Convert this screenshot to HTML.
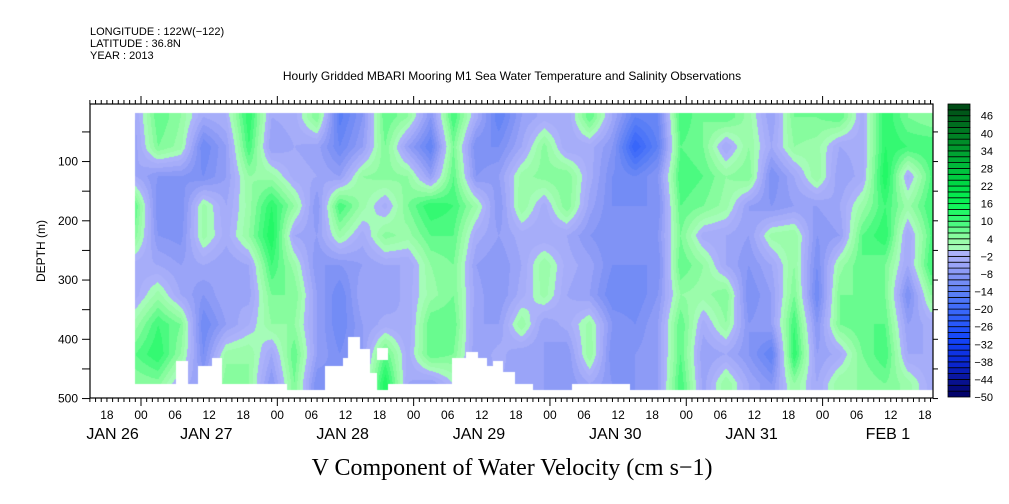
<!DOCTYPE html>
<html><head><meta charset="utf-8"><style>
html,body{margin:0;padding:0;background:#fff;}
#wrap{position:relative;width:1009px;height:504px;overflow:hidden;}
svg text{font-family:"Liberation Sans",sans-serif;}
</style></head><body>
<div id="wrap">
<canvas id="heat" width="1009" height="504" style="position:absolute;left:0;top:0"></canvas>
<svg id="ax" width="1009" height="504" style="position:absolute;left:0;top:0">
<text x="90" y="35" font-size="11">LONGITUDE : 122W(−122)</text>
<text x="90" y="47" font-size="11">LATITUDE : 36.8N</text>
<text x="90" y="59" font-size="11">YEAR : 2013</text>
<text x="512" y="80" font-size="12" text-anchor="middle">Hourly Gridded MBARI Mooring M1 Sea Water Temperature and Salinity Observations</text>
<text x="512" y="475" font-size="24" text-anchor="middle" style="font-family:'Liberation Serif',serif">V Component of Water Velocity (cm s−1)</text>
<text transform="translate(45,251) rotate(-90)" font-size="12" text-anchor="middle">DEPTH (m)</text>
</svg>
</div>
<script>
// grid: column times (hours since JAN 27 00:00), depth rows (m)
const hours=[-1,3,7,11,15,19,23,27,31,35,39,43,47,51,55,59,63,67,71,75,79,83,87,91,95,99,103,107,111,115,119,123,127,131,135,139];
const depths=[25,75,125,175,225,275,325,375,425,475];
const values=[
[-4,-5,-4,8,5,-3,-3,3,8,4],
[8,6,-8,-10,-8,-4,3,10,12,5],
[4,3,-8,-10,-9,-6,-4,6,4,-3],
[-4,-12,-10,3,3,-4,-8,-12,-10,-6],
[-2,-6,-6,-4,-3,-6,-4,-6,3,6],
[12,10,4,3,4,-4,-5,-2,4,4],
[-4,-6,3,12,14,10,6,4,-4,-8],
[-3,-4,-3,4,-4,3,6,4,8,6],
[6,-5,-4,-8,-6,-8,-6,-6,-6,-10],
[-15,-12,-6,10,3,-8,-12,-12,-10,-8],
[-8,-6,4,3,-3,-6,-4,-6,-6,-4],
[8,6,5,-3,5,-4,-6,-3,8,14],
[4,-6,4,6,3,-4,-3,-4,-3,-4],
[-8,-14,-6,12,8,4,3,8,8,-6],
[10,6,8,10,8,6,6,8,6,0],
[-3,-10,-8,3,-3,-6,-5,-6,-6,-5],
[-14,-10,-6,-8,-6,-8,-8,-6,-3,-4],
[-6,-4,3,4,-3,-4,-3,4,-6,-5],
[-3,5,5,-3,-4,4,3,-6,-6,-6],
[-4,-4,6,6,-4,-3,-4,-3,-8,-8],
[8,-3,-3,-5,-8,-5,-6,3,4,-4],
[-4,-8,-10,-10,-10,-10,-12,-8,-10,-8],
[-14,-22,-12,-10,-10,-10,-12,-10,-8,-8],
[-12,-14,-8,-10,-8,-10,-8,-6,-6,-6],
[10,8,10,8,6,8,4,8,8,10],
[6,6,8,6,-3,4,3,-3,-6,-5],
[8,-4,4,3,-4,-4,6,4,-4,4],
[3,4,6,-6,-6,-8,-10,-8,-8,-4],
[-6,-4,-10,-8,3,-4,-6,-6,-14,-8],
[6,4,-4,-6,4,4,6,10,12,4],
[6,3,4,-6,-8,-10,-12,-8,-6,-4],
[8,-4,-6,-4,-6,3,6,6,-3,4],
[-3,-3,-3,3,8,8,6,8,6,4],
[12,12,14,10,12,6,6,8,10,6],
[6,10,-3,3,-4,-4,-10,-6,-4,3],
[4,10,8,10,8,10,4,-3,-4,-3]
];
// data gaps [h0,h1,d0,d1]
const gaps=[[-1,25.7,475,500],[6.2,8.3,437,500],[10,12.5,445,500],[12.5,14.3,431,500],[32.4,35.5,445,500],[35.5,36.4,432,500],[36.4,38.5,396,500],[38.5,40.3,417,500],[40.3,41.5,457,500],[41.6,43.5,415,435],[43.5,58.7,475,500],[54.8,61,431,500],[57.3,59.3,422,500],[61,62,445,500],[62,63.7,437,500],[63.7,65.8,455,500],[65.8,69,475,500],[75.9,86.1,475,500]];
const yTicks=[100,200,300,400,500];
const cbLabels=[46,40,34,28,22,16,10,4,-2,-8,-14,-20,-26,-32,-38,-44,-50];

const X0=141,HPX=5.68,PL=90,PR=933,PT=104,PB=398;
const xs=h=>X0+h*HPX;
const hx=x=>(x-X0)/HPX;
const ys=d=>102.3+d*0.5925;
const yd=y=>(y-102.3)/0.5925;
const anchors=[[-50,[0,0,100]],[-44,[10,20,150]],[-38,[10,40,215]],[-30,[20,70,250]],[-20,[60,105,250]],[-14,[95,130,245]],[-8,[135,150,245]],[-2,[172,178,250]],[0,[172,178,250]],[0.01,[170,252,190]],[4,[150,252,165]],[10,[60,250,120]],[16,[10,245,85]],[22,[0,220,70]],[28,[0,190,60]],[40,[0,125,35]],[50,[0,70,20]]];
function col(v){v=Math.max(-50,Math.min(49.9,v));v=Math.floor(v/2)*2+1;
 for(let i=0;i<anchors.length-1;i++){const a=anchors[i],b=anchors[i+1];if(v>=a[0]&&v<=b[0]){const t=(v-a[0])/(b[0]-a[0]);return a[1].map((c,k)=>Math.round(c+(b[1][k]-c)*t));}}
 return anchors[anchors.length-1][1];}
function val(h,d){
 let ci=(h-hours[0])/(hours[1]-hours[0]);ci=Math.max(0,Math.min(hours.length-1.0001,ci));
 let ri=(d-depths[0])/(depths[1]-depths[0]);ri=Math.max(0,Math.min(depths.length-1.0001,ri));
 const c0=Math.floor(ci),r0=Math.floor(ri),tc=ci-c0,tr=ri-r0;
 const v00=values[c0][r0],v01=values[c0][r0+1],v10=values[c0+1][r0],v11=values[c0+1][r0+1];
 return (v00*(1-tr)+v01*tr)*(1-tc)+(v10*(1-tr)+v11*tr)*tc;}
const cv=document.getElementById('heat'),ctx=cv.getContext('2d');
const img=ctx.createImageData(1009,504);
const xa=Math.round(xs(hours[0])-0.5),xb=PR,ya=Math.round(ys(18)),yb=Math.round(ys(485));
for(let y=ya;y<yb;y++){const d=yd(y+0.5);
 for(let x=xa;x<xb;x++){const h=hx(x+0.5);
  let gap=false;for(const g of gaps){if(h>=g[0]&&h<g[1]&&d>=g[2]&&d<g[3]){gap=true;break;}}
  if(gap)continue;const c=col(val(h,d));const p=(y*1009+x)*4;
  img.data[p]=c[0];img.data[p+1]=c[1];img.data[p+2]=c[2];img.data[p+3]=255;}}
ctx.putImageData(img,0,0);

const NS='http://www.w3.org/2000/svg',svg=document.getElementById('ax');
function el(t,a,txt){const e=document.createElementNS(NS,t);for(const k in a)e.setAttribute(k,a[k]);if(txt!==undefined)e.textContent=txt;svg.appendChild(e);return e;}
let f=el('rect',{x:PL,y:PT,width:PR-PL,height:PB-PT,fill:'none',stroke:'#000','stroke-width':1.2});


// time ticks
for(let h=-9;h<=hx(PR);h++){const x=xs(h);const maj=((h%24)+24)%24===0;const L=maj?8:4;
 let t=el('line',{x1:x,x2:x,y1:PB,y2:PB+L,stroke:'#000','stroke-width':1});
 
 
 let t2=el('line',{x1:x,x2:x,y1:PT,y2:PT-(maj?8:4),stroke:'#000','stroke-width':1});
 
 
 if(((h%6)+6)%6===0){const hh=((h%24)+24)%24;
  let lb=el('text',{x:x,y:419,'font-size':12,'text-anchor':'middle'},String(hh).padStart(2,'0'));
  
  }}
const dayNames=['JAN 26','JAN 27','JAN 28','JAN 29','JAN 30','JAN 31','FEB  1'];
const dayPos=[-5,11.5,35.5,59.5,83.5,107.5,131.5];
dayNames.forEach((n,i)=>{let t=el('text',{x:xs(dayPos[i]),y:439,'font-size':16,'text-anchor':'middle','xml:space':'preserve'},n);
 
 });
// depth ticks
for(let d=50;d<=500;d+=50){const y=ys(d);
 let t=el('line',{x1:PL-8,x2:PL,y1:y,y2:y,stroke:'#000','stroke-width':1});
 
 
 let t2=el('line',{x1:PR,x2:PR+5,y1:y,y2:y,stroke:'#000','stroke-width':1});
 
 }
yTicks.forEach(d=>{let t=el('text',{x:78,y:ys(d)+4,'font-size':12,'text-anchor':'end'},String(d));
 
 });
// colorbar
const CX=948,CW=22,CT=104,CB=397;const cy=v=>CT+(50-v)*(CB-CT)/100;
for(let v=-50;v<50;v+=2){const c=col(v+1);
 let r=el('rect',{x:CX,y:cy(v+2),width:CW,height:cy(v)-cy(v+2),fill:`rgb(${c[0]},${c[1]},${c[2]})`,stroke:'#000','stroke-width':0.8});
 
 }
cbLabels.forEach(v=>{let t=el('text',{x:993,y:cy(v)+4,'font-size':11,'text-anchor':'end'},v<0?'−'+(-v):String(v));
 
 });
</script>
</body></html>
